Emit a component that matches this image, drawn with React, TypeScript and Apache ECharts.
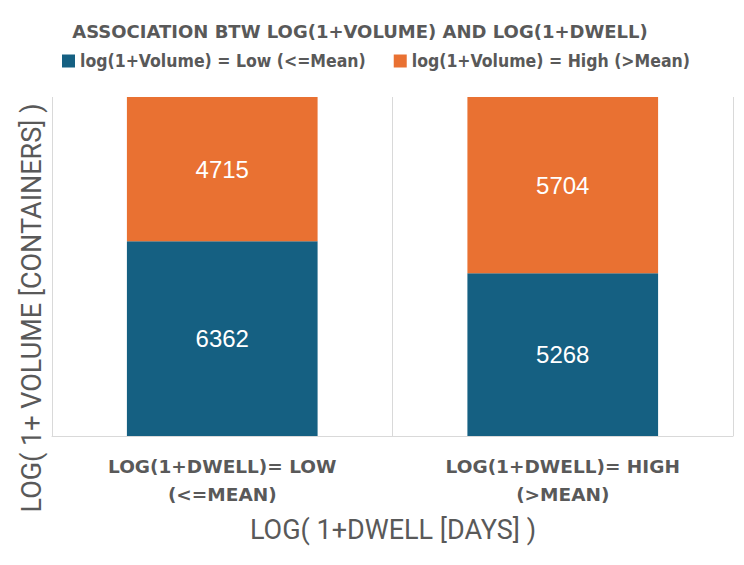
import React, { useEffect, useRef } from "react";
import * as echarts from "echarts";

const categories = ["LOG(1+DWELL)= LOW\n(<=MEAN)", "LOG(1+DWELL)= HIGH\n(>MEAN)"];
const seriesNames = ["log(1+Volume) = Low (<=Mean)", "log(1+Volume) = High (>Mean)"];
const lowVolume = [6362, 5268];
const highVolume = [4715, 5704];
const titleText = "ASSOCIATION BTW LOG(1+VOLUME) AND LOG(1+DWELL)";
const xName = "LOG( 1+DWELL [DAYS] )";
const yName = "LOG( 1+ VOLUME [CONTAINERS] )";

export default function App() {
  const ref = useRef<HTMLDivElement>(null);
  useEffect(() => {
    if (!ref.current) return;
    const chart = echarts.init(ref.current, null, { renderer: "svg" });
    const totals = lowVolume.map((v, i) => v + highVolume[i]);
    const lowShare = lowVolume.map((v, i) => v / totals[i]);
    const highShare = highVolume.map((v, i) => v / totals[i]);
    const gray = "#595959";
    const labelStyle = (raw: number[]) => ({
      show: true,
      position: "inside",
      color: "#ffffff",
      fontSize: 24,
      fontFamily: "Liberation Sans, Arial, sans-serif",
      formatter: (p: any) => String(raw[p.dataIndex]),
    });
    chart.setOption({
      animation: false,
      backgroundColor: "#ffffff",
      legend: {
        left: 57,
        top: 47,
        itemWidth: 13,
        itemHeight: 13,
        itemGap: 28,
        icon: "rect",
        textStyle: {
          color: gray,
          fontSize: 17.5,
          fontWeight: "bold",
          fontFamily: "DejaVu Sans Condensed, sans-serif",
        },
        data: seriesNames,
      },
      grid: { left: 52, right: 11, top: 97, bottom: 129 },
      xAxis: {
        type: "category",
        data: categories,
        axisTick: { show: false },
        axisLine: { show: true, lineStyle: { color: "#d9d9d9" } },
        splitLine: { show: true, lineStyle: { color: "#d9d9d9" } },
        axisLabel: {
          interval: 0,
          margin: 16,
          color: gray,
          fontSize: 18.5,
          fontWeight: "bold",
          lineHeight: 28,
          fontFamily: "DejaVu Sans, sans-serif",
        },
      },
      yAxis: {
        type: "value",
        min: 0,
        max: 1,
        axisLabel: { show: false },
        axisLine: { show: false },
        axisTick: { show: false },
        splitLine: { show: false },
      },
      graphic: [
        {
          type: "text",
          x: 360,
          y: 31,
          style: {
            text: titleText,
            fill: gray,
            fontSize: 18,
            fontWeight: "bold",
            fontFamily: "DejaVu Sans, sans-serif",
            textAlign: "center",
            textVerticalAlign: "middle",
          },
        },
        {
          type: "text",
          x: 393,
          y: 530,
          style: {
            text: xName,
            fill: gray,
            fontSize: 27,
            fontFamily: "Liberation Sans Narrow, Roboto, sans-serif",
            textAlign: "center",
            textVerticalAlign: "middle",
          },
        },
        {
          type: "text",
          x: 32,
          y: 308,
          rotation: Math.PI / 2,
          style: {
            text: yName,
            fill: gray,
            fontSize: 27,
            fontFamily: "Liberation Sans Narrow, Roboto, sans-serif",
            textAlign: "center",
            textVerticalAlign: "middle",
          },
        },
      ],
      series: [
        {
          name: seriesNames[0],
          type: "bar",
          stack: "total",
          barWidth: "56%",
          itemStyle: { color: "#156082" },
          label: labelStyle(lowVolume),
          data: lowShare,
        },
        {
          name: seriesNames[1],
          type: "bar",
          stack: "total",
          barWidth: "56%",
          itemStyle: { color: "#E97132" },
          label: labelStyle(highVolume),
          data: highShare,
        },
      ],
    });
    return () => chart.dispose();
  }, []);
  return <div ref={ref} style={{ width: 744, height: 565, marginLeft: -8, marginTop: -8 }} />;
}
